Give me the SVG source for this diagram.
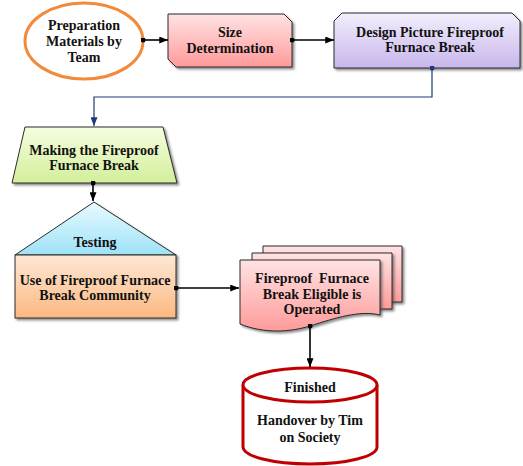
<svg xmlns="http://www.w3.org/2000/svg" width="523" height="466" viewBox="0 0 523 466">
  <defs>
    <linearGradient id="gPink" x1="0" y1="0" x2="0" y2="1">
      <stop offset="0" stop-color="#ffe3e3"/>
      <stop offset="1" stop-color="#ff9a9a"/>
    </linearGradient>
    <linearGradient id="gPurple" x1="0" y1="0" x2="0" y2="1">
      <stop offset="0" stop-color="#f2eefc"/>
      <stop offset="1" stop-color="#c8b7ec"/>
    </linearGradient>
    <linearGradient id="gGreen" x1="0" y1="0" x2="0" y2="1">
      <stop offset="0" stop-color="#f6fde0"/>
      <stop offset="1" stop-color="#d2ef9a"/>
    </linearGradient>
    <linearGradient id="gBlue" x1="0" y1="0" x2="0" y2="1">
      <stop offset="0" stop-color="#e8faff"/>
      <stop offset="1" stop-color="#9ee2f7"/>
    </linearGradient>
    <linearGradient id="gPeach" x1="0" y1="0" x2="0" y2="1">
      <stop offset="0" stop-color="#fee8d6"/>
      <stop offset="1" stop-color="#fbb880"/>
    </linearGradient>
    <filter id="shadow" x="-10%" y="-10%" width="125%" height="130%">
      <feDropShadow dx="2" dy="2" stdDeviation="1" flood-color="#444" flood-opacity="0.6"/>
    </filter>
    <marker id="arrow" viewBox="0 0 10 8" refX="10" refY="4" markerWidth="9" markerHeight="7" markerUnits="userSpaceOnUse" orient="auto">
      <path d="M0,0 L10,4 L0,8 Z" fill="#000"/>
    </marker>
    <marker id="arrowBlue" viewBox="0 0 10 8" refX="10" refY="4" markerWidth="9" markerHeight="7" markerUnits="userSpaceOnUse" orient="auto">
      <path d="M0,0 L10,4 L0,8 Z" fill="#1f3a7a"/>
    </marker>
    <marker id="dot" viewBox="0 0 6 6" refX="3" refY="3" markerWidth="5" markerHeight="5" markerUnits="userSpaceOnUse">
      <circle cx="3" cy="3" r="3" fill="#000"/>
    </marker>
    <marker id="dotBlue" viewBox="0 0 6 6" refX="3" refY="3" markerWidth="5" markerHeight="5" markerUnits="userSpaceOnUse">
      <circle cx="3" cy="3" r="3" fill="#1f3a7a"/>
    </marker>
  </defs>
  <style>
    text { font-family: "Liberation Serif", "Times New Roman", serif; font-weight: bold; font-size: 14px; fill: #111; text-anchor: middle; }
    .box { stroke: #2a2a2a; stroke-width: 1; filter: url(#shadow); }
    .link { fill: none; stroke: #000; stroke-width: 1.6; marker-start: url(#dot); marker-end: url(#arrow); }
    .linkBlue { fill: none; stroke: #1f3a7a; stroke-width: 1.2; marker-start: url(#dotBlue); marker-end: url(#arrowBlue); }
  </style>

  <!-- start: team preparation -->
  <g id="prep">
    <ellipse cx="84" cy="41" rx="59" ry="38" fill="#fff" stroke="#f28a3a" stroke-width="3"/>
    <text x="84" y="30">Preparation</text>
    <text x="84" y="46">Materials by</text>
    <text x="84" y="62">Team</text>
  </g>

  <!-- size determination -->
  <g id="size">
    <path class="box" d="M168,14 H284 L292,22 V67 H176 L168,59 Z" fill="url(#gPink)"/>
    <text x="230" y="37">Size</text>
    <text x="230" y="53">Determination</text>
  </g>

  <!-- design drawing -->
  <g id="design">
    <path class="box" d="M342,13 H512 L520,21 V68 H334 V21 Z" fill="url(#gPurple)"/>
    <text x="430" y="37">Design Picture Fireproof</text>
    <text x="430" y="52">Furnace Break</text>
  </g>

  <!-- manual operation: making -->
  <g id="making">
    <path class="box" d="M25,127 H163 L177,183 H12 Z" fill="url(#gGreen)"/>
    <text x="94" y="155">Making the Fireproof</text>
    <text x="94" y="170">Furnace Break</text>
  </g>

  <!-- testing / community use -->
  <g id="testing">
    <path class="box" d="M94,202 L176,255 H15 Z" fill="url(#gBlue)"/>
    <text x="95" y="247">Testing</text>
  </g>
  <g id="community">
    <rect class="box" x="15" y="255" width="161" height="63" fill="url(#gPeach)"/>
    <text x="95" y="285">Use of Fireproof Furnace</text>
    <text x="95" y="300">Break Community</text>
  </g>

  <!-- multi-document -->
  <g id="eligible">
    <path class="box" d="M263,246 H402 V302 H263 Z" fill="url(#gPink)"/>
    <path class="box" d="M252,253 H392 V309 H252 Z" fill="url(#gPink)"/>
    <path class="box" d="M240,260 H380 V315 C360,310 335,318 310,326 C290,332 265,334 240,324 Z" fill="url(#gPink)"/>
    <text x="312" y="283">Fireproof&#160; Furnace</text>
    <text x="312" y="299">Break Eligible is</text>
    <text x="312" y="314">Operated</text>
  </g>

  <!-- end: handover -->
  <g id="finished">
    <path d="M243,385 V447 A67,17 0 0 0 377,447 V385" fill="#fff" stroke="#c00000" stroke-width="3"/>
    <ellipse cx="310" cy="385" rx="67" ry="17" fill="#fff" stroke="#c00000" stroke-width="3"/>
    <text x="310" y="392">Finished</text>
    <text x="310" y="425">Handover by Tim</text>
    <text x="310" y="442">on Society</text>
  </g>

  <!-- connectors, drawn last so the end dots sit on top of the shapes -->
  <g id="connectors">
    <path class="link" d="M143,40 H168"/>
    <path class="link" d="M292,40 H334"/>
    <path class="linkBlue" d="M432,68 V97 H94 V126"/>
    <path class="link" d="M93,183 V201"/>
    <path class="link" d="M176,288 H239"/>
    <path class="link" d="M310,326 V367"/>
  </g>
</svg>
